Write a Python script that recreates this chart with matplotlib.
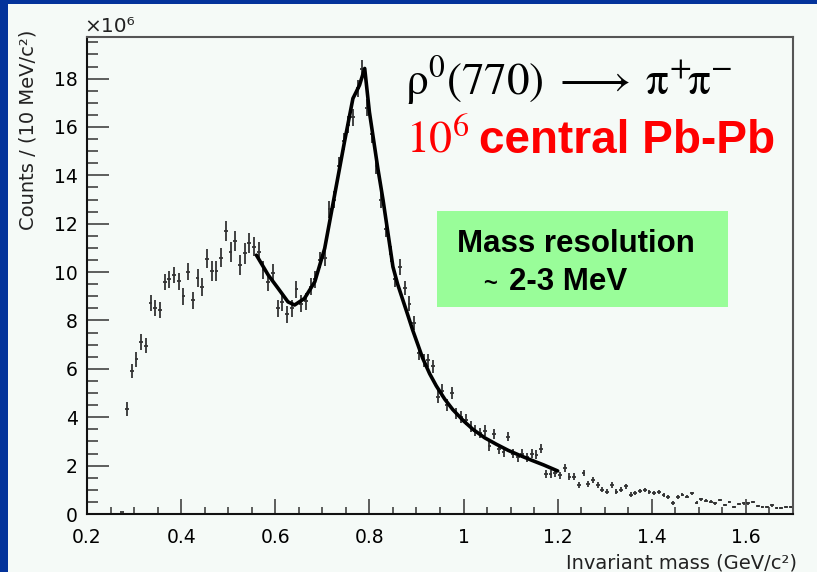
import numpy as np
import matplotlib
matplotlib.use('Agg')
import matplotlib.pyplot as plt
from matplotlib.patches import Rectangle
from matplotlib.ticker import MultipleLocator, FuncFormatter

plt.rcParams['mathtext.fontset'] = 'stix'

# histogram: 10 MeV bins starting at 0.27 GeV, counts in units of 10^6
bin_lo = 0.27
bin_width = 0.01
counts = [0.1,
          4.34, 5.92, 6.39, 7.12, 6.96, 8.73, 8.52, 8.43, 9.59, 9.71,
          9.88, 9.63, 9.0, 10.01, 8.84, 9.77, 9.39, 10.56, 10.05, 10.05,
          10.6, 11.69, 10.84, 11.3, 10.29, 10.77, 11.19, 11.05, 10.84, 10.1,
          9.6, 9.95, 8.5, 8.75, 8.25, 8.5, 9.3, 8.7, 8.8, 9.4,
          9.7, 10.5, 10.6, 12.6, 13.0, 14.4, 15.4, 16.1, 16.4, 17.6,
          18.4, 16.8, 15.7, 14.4, 13.0, 11.8, 10.75, 9.7, 10.2, 9.35,
          8.7, 7.9, 6.65, 6.35, 6.35, 6.1, 4.85, 5.1, 4.5, 5.0,
          4.15, 4.0, 3.9, 3.6, 3.45, 3.35, 3.45, 2.8, 3.3, 2.7,
          2.55, 3.2, 2.5, 2.35, 2.5, 2.35, 2.5, 2.45, 2.7, 1.65,
          1.65, 1.7, 1.6, 1.9, 1.55, 1.55, 1.2, 1.7, 1.25, 1.4,
          1.2, 1.0, 0.92, 1.2, 0.92, 1.0, 1.15, 0.8, 0.86, 0.95,
          1.0, 0.92, 0.88, 0.92, 0.8, 0.72, 0.45, 0.7, 0.8, 0.72,
          0.86, 0.47, 0.6, 0.55, 0.5, 0.45, 0.58, 0.38, 0.5, 0.3,
          0.42, 0.44, 0.44, 0.5, 0.33, 0.3, 0.28, 0.36, 0.24, 0.25,
          0.3, 0.28]
errors = [0.0,
          0.3, 0.3, 0.3, 0.32, 0.32, 0.33, 0.33, 0.33, 0.35, 0.35,
          0.35, 0.35, 0.35, 0.35, 0.35, 0.37, 0.37, 0.4, 0.4, 0.4,
          0.4, 0.42, 0.42, 0.42, 0.42, 0.42, 0.42, 0.4, 0.4, 0.38,
          0.38, 0.37, 0.35, 0.35, 0.35, 0.35, 0.35, 0.35, 0.35, 0.35,
          0.35, 0.35, 0.35, 0.35, 0.35, 0.35, 0.35, 0.35, 0.35, 0.35,
          0.35, 0.35, 0.35, 0.35, 0.35, 0.35, 0.33, 0.33, 0.33, 0.3,
          0.3, 0.3, 0.28, 0.28, 0.28, 0.28, 0.26, 0.26, 0.25, 0.25,
          0.24, 0.24, 0.23, 0.23, 0.22, 0.22, 0.22, 0.2, 0.2, 0.2,
          0.2, 0.2, 0.19, 0.19, 0.19, 0.19, 0.19, 0.19, 0.19, 0.16,
          0.16, 0.16, 0.15, 0.15, 0.14, 0.14, 0.13, 0.13, 0.12, 0.12,
          0.12, 0.11, 0.11, 0.11, 0.1, 0.1, 0.1, 0.09, 0.09, 0.09,
          0.09, 0.09, 0.08, 0.08, 0.08, 0.08, 0.07, 0.07, 0.07, 0.07,
          0.07, 0.06, 0.06, 0.06, 0.06, 0.06, 0.06, 0.05, 0.05, 0.05,
          0.05, 0.05, 0.05, 0.05, 0.05, 0.05, 0.05, 0.05, 0.05, 0.05,
          0.05, 0.05]

# fitted curve
fit_mass = [0.56, 0.585, 0.606, 0.627, 0.641, 0.662, 0.684, 0.705, 0.726, 0.747,
            0.765, 0.772, 0.779, 0.79, 0.80, 0.818, 0.829, 0.839, 0.85, 0.86,
            0.871, 0.882, 0.892, 0.903, 0.913, 0.928, 0.942, 0.96, 0.977, 1.0,
            1.02, 1.045, 1.07, 1.095, 1.12, 1.145, 1.17, 1.2]
fit_counts = [10.70, 9.88, 9.33, 8.77, 8.64, 8.91, 9.60, 10.98, 13.18, 15.38,
              17.18, 17.45, 17.73, 18.42, 16.62, 14.28, 12.98, 11.67, 10.22, 9.5,
              8.85, 8.2, 7.6, 7.0, 6.45, 5.8, 5.3, 4.75, 4.32, 3.85,
              3.5, 3.15, 2.88, 2.63, 2.42, 2.22, 2.03, 1.78]

mass = bin_lo + bin_width * (np.arange(len(counts)) + 0.5)

W, H = 817, 572
blue = '#03339b'
panel = '#f5faf7'


def fx(px):
    return px / W


def fy(py):
    return 1 - py / H


fig = plt.figure(figsize=(W / 100, H / 100), dpi=100)
fig.patch.set_facecolor(blue)
fig.add_artist(Rectangle((fx(8), 0), 1 - fx(8), fy(4), transform=fig.transFigure,
                         facecolor=panel, edgecolor='none', zorder=0))

ax = fig.add_axes([fx(87), fy(514), fx(793) - fx(87), fy(37) - fy(514)])
ax.set_facecolor(panel)

ax.errorbar(mass, counts, yerr=errors, xerr=0.004, fmt='none',
            ecolor='#333333', elinewidth=1.3, capsize=0)
ax.plot(fit_mass, fit_counts, color='black', lw=2.6,
        solid_joinstyle='round', solid_capstyle='round')

ax.set_xlim(0.2, 1.7)
ax.set_ylim(0, 19.72)
ax.xaxis.set_major_locator(MultipleLocator(0.2))
ax.xaxis.set_minor_locator(MultipleLocator(0.05))
ax.yaxis.set_major_locator(MultipleLocator(2))
ax.yaxis.set_minor_locator(MultipleLocator(0.5))
ax.xaxis.set_major_formatter(FuncFormatter(lambda v, p: '%g' % round(v, 2)))
ax.yaxis.set_major_formatter(FuncFormatter(lambda v, p: '%g' % v))

ax.tick_params(axis='y', which='major', direction='in', length=15.5, width=1.1,
               color='#333333', labelsize=13.5, pad=6.5)
ax.tick_params(axis='y', which='minor', direction='in', length=8, width=1.1, color='#333333')
ax.tick_params(axis='x', which='major', direction='in', length=10.5, width=1.1,
               color='#333333', labelsize=13.5, pad=10)
ax.tick_params(axis='x', which='minor', direction='in', length=5, width=1.1, color='#333333')

for s in ['left', 'bottom']:
    ax.spines[s].set_color('#111111')
    ax.spines[s].set_linewidth(1.5)
for s in ['top', 'right']:
    ax.spines[s].set_color('#555555')
    ax.spines[s].set_linewidth(1.5)

fig.text(fx(84), fy(27), '×10⁶', fontsize=14.5, color='#222222', va='center', ha='left')
fig.text(fx(28), fy(30), 'Counts / (10 MeV/c²)', rotation=90, fontsize=14,
         color='#222222', ha='center', va='top')
fig.text(fx(797), fy(563), 'Invariant mass (GeV/c²)', fontsize=14,
         color='#222222', ha='right', va='center')

# annotations
fig.text(fx(405), fy(96), r'$\mathrm{\rho^0(770)}\;\longrightarrow\;\mathrm{\pi^{+}\!\pi^{-}}$',
         fontsize=32.5, color='black', va='baseline', ha='left')
fig.text(fx(406), fy(153), r'$10^6$', fontsize=33, color='red',
         va='baseline', ha='left')
fig.text(fx(479), fy(153), 'central Pb-Pb', fontsize=33, color='red',
         family='Liberation Sans', weight='bold', va='baseline', ha='left')

fig.add_artist(Rectangle((fx(437), fy(307)), fx(728) - fx(437), fy(211) - fy(307),
                         transform=fig.transFigure, facecolor='#99fd99',
                         edgecolor='none', zorder=3))
fig.text(fx(457), fy(252), 'Mass resolution', fontsize=22.5, color='black',
         family='Liberation Sans', weight='bold', va='baseline', ha='left', zorder=4)
fig.text(fx(483), fy(290), '~', fontsize=17, color='black',
         family='Liberation Sans', weight='bold', va='baseline', ha='left', zorder=4)
fig.text(fx(509), fy(290), '2-3 MeV', fontsize=22.5, color='black',
         family='Liberation Sans', weight='bold', va='baseline', ha='left', zorder=4)

fig.savefig('out.png', dpi=100, facecolor=fig.get_facecolor())
